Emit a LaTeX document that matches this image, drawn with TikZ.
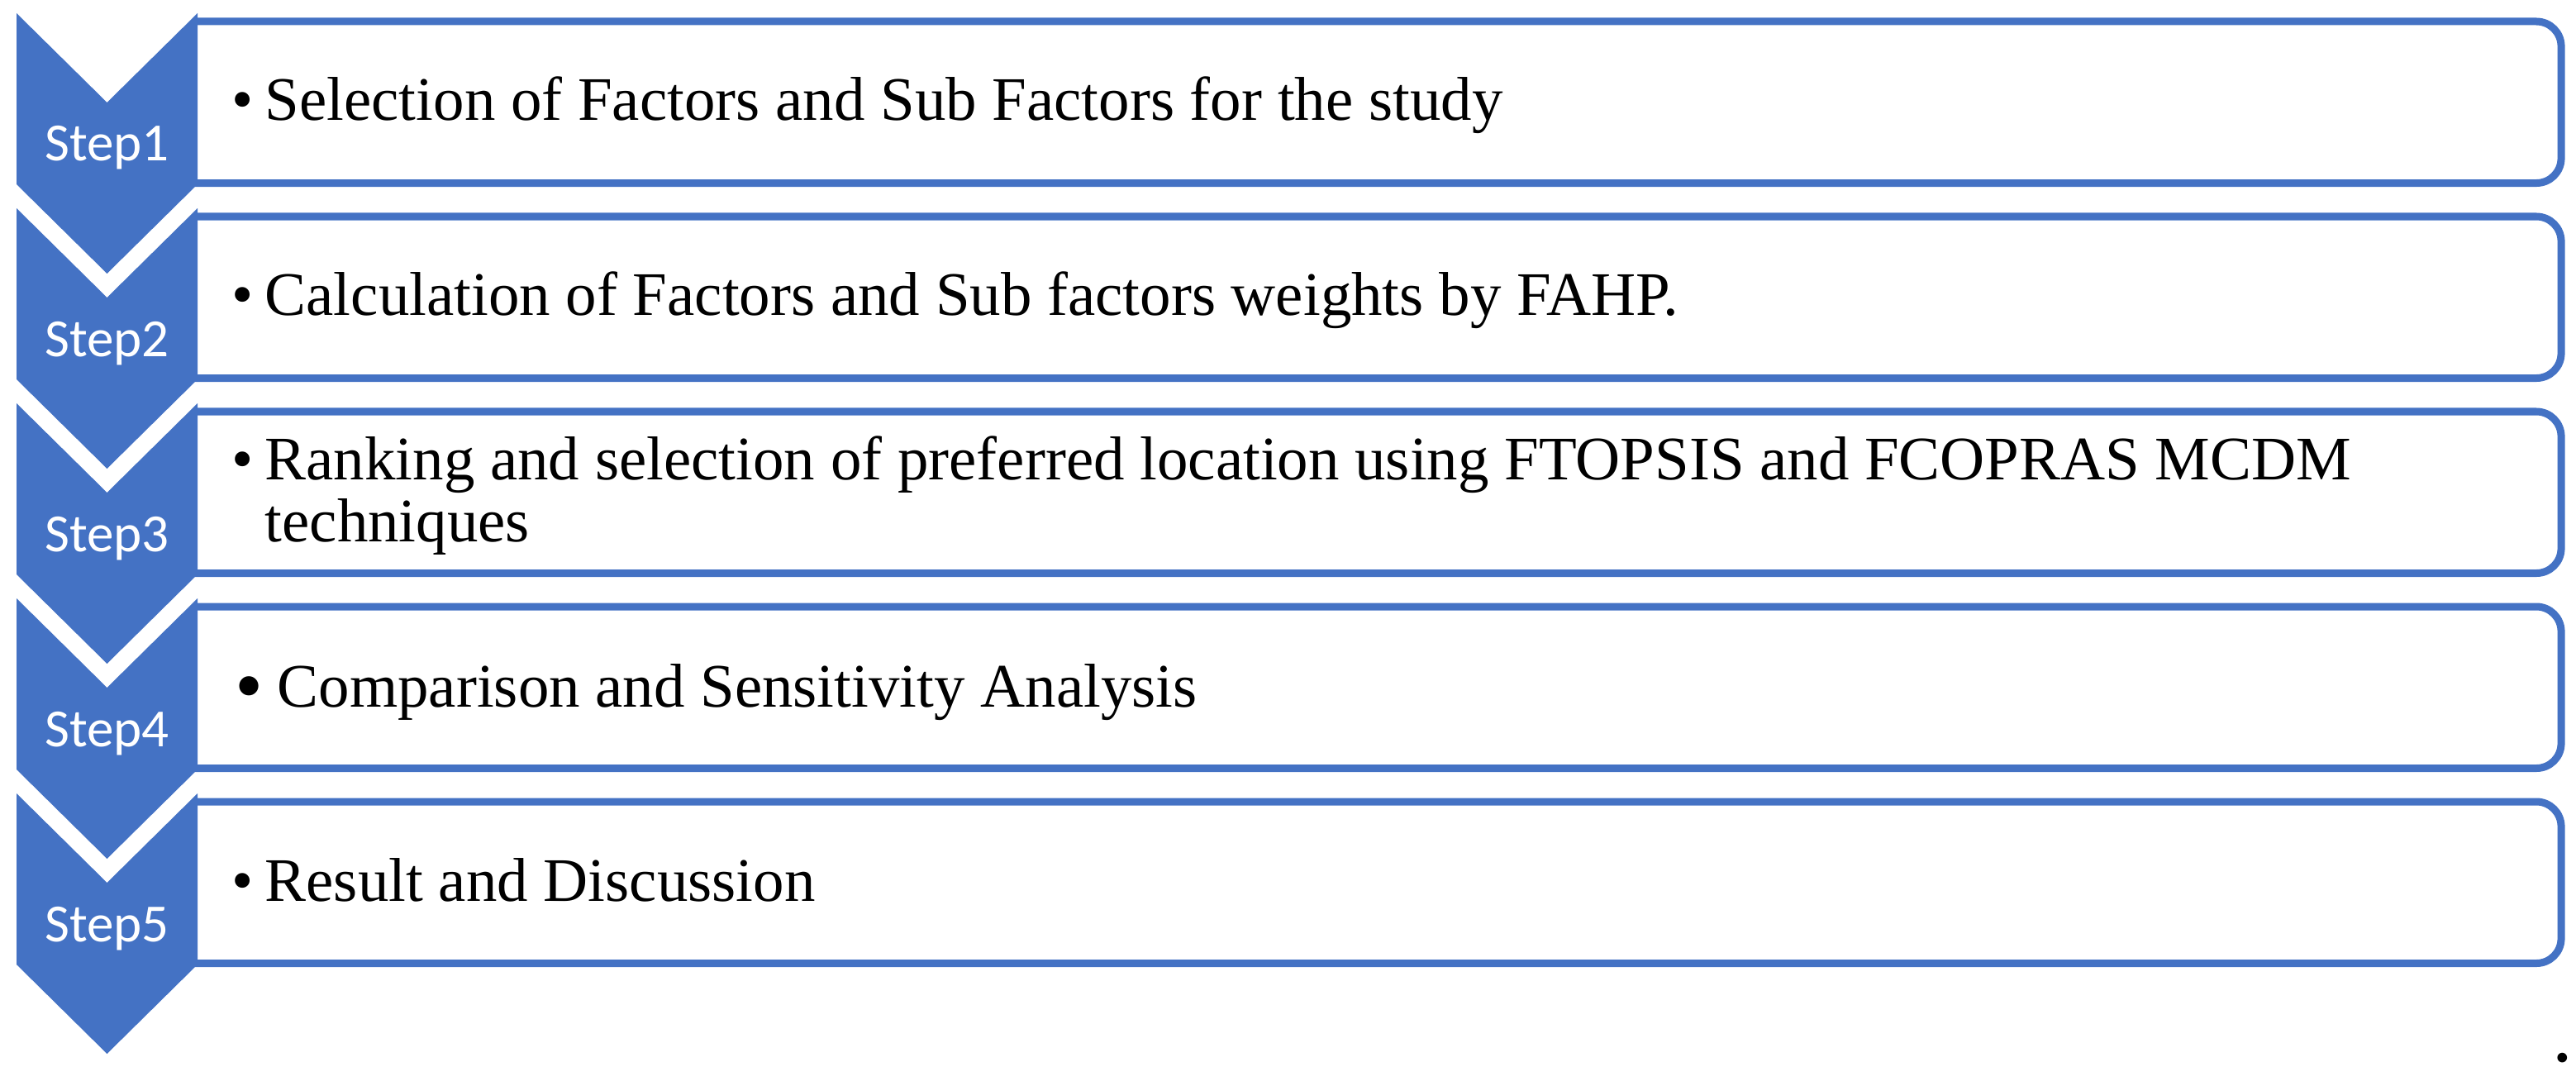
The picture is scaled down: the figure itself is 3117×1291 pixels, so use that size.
\documentclass[tikz,border=0pt]{standalone}
\usepackage{fontspec}
\setmainfont{Liberation Serif}
\newfontfamily\stepfont{Carlito}
\usetikzlibrary{positioning}
\definecolor{officeblue}{HTML}{4472C4}
\newcommand{\stepbullet}{\makebox[0.4cm][l]{\textbullet}}

\begin{document}
\begin{tikzpicture}[x=0.01cm,y=-0.01cm]
		\tikzstyle{chevron}=[fill=officeblue]
		\tikzstyle{step_text}=[text=white, font=\stepfont\fontsize{18.5}{18.5}\selectfont, anchor=base, inner sep=0pt]
		\tikzstyle{box}=[anchor=north west, inner sep=0pt, minimum width=28.61cm, minimum height=1.94cm]
		\tikzstyle{box_line}=[draw=officeblue, line width=0.09cm, rounded corners=0.3cm]
		\tikzstyle{box_text}=[font=\fontsize{21.3}{21.3}\selectfont, anchor=base west, inner sep=0pt, align=left]

		\useasboundingbox (0,0) rectangle (3117,1291);

		% boxes
		\node [box] (B1) at (235,26) {};
		\node [box] (B2) at (235,262) {};
		\node [box] (B3) at (235,498) {};
		\node [box] (B4) at (235,734) {};
		\node [box] (B5) at (235,970) {};
		\foreach \b in {B1,B2,B3,B4,B5}
			\draw [box_line] (\b.north west) -- (\b.north east) -- (\b.south east) -- (\b.south west);

		% chevrons
		\foreach \k in {0,...,4}
			\fill [chevron] (20,16+236*\k) -- (129.5,124+236*\k) -- (239,16+236*\k) -- (239,223+236*\k)
				-- (129.5,331+236*\k) -- (20,223+236*\k) -- cycle;

		\node [step_text] (S1) at (129.5,195) {Step1};
		\node [step_text] (S2) at (129.5,431) {Step2};
		\node [step_text] (S3) at (129.5,667) {Step3};
		\node [step_text] (S4) at (129.5,903) {Step4};
		\node [step_text] (S5) at (129.5,1139) {Step5};

		% texts
		\node [box_text] (T1) at (280,146) {\stepbullet Selection of Factors and Sub Factors for the study};
		\node [box_text] (T2) at (280,382) {\stepbullet Calculation of Factors and Sub factors weights by FAHP.};
		\node [box_text] (T3) at (280,655) {\stepbullet Ranking and selection of preferred location using FTOPSIS and FCOPRAS MCDM\\\hspace*{0.4cm}techniques};
		\node [box_text] (T4) at (284,855) {\makebox[0.51cm][l]{\raisebox{-0.07cm}{\scalebox{1.3}{\textbullet}}}Comparison and Sensitivity Analysis};
		\node [box_text] (T5) at (280,1090) {\stepbullet Result and Discussion};

		\node [box_text, anchor=base east, font=\fontsize{28}{28}\selectfont] (dot) at (3114,1284) {.};
	\end{tikzpicture}
\end{document}
